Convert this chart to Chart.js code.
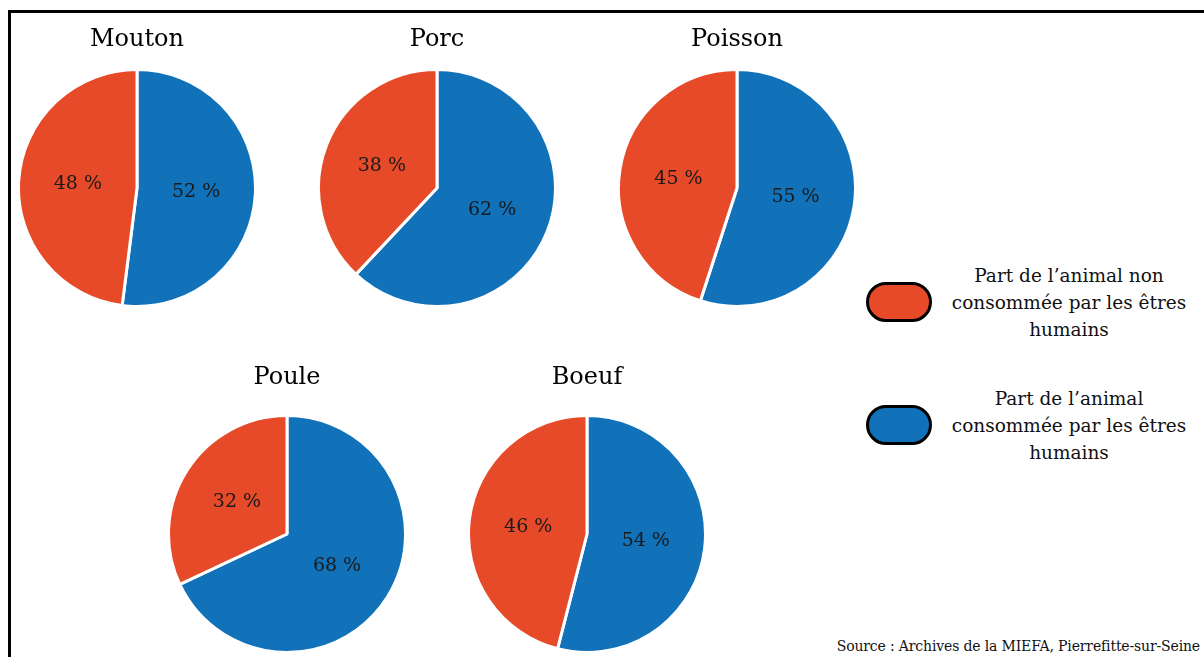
<!DOCTYPE html>
<html>
<head>
<meta charset="utf-8">
<script src="https://cdn.jsdelivr.net/npm/chart.js@4"></script>
<style>
  body { margin: 0; background: #fff; width: 1204px; height: 657px; overflow: hidden; position: relative; font-family: "DejaVu Serif", serif; }
  .frame { position: absolute; left: 8px; top: 10px; width: 1220px; height: 680px; border: 3px solid #000; box-sizing: border-box; }
  .pie { position: absolute; }
  .legend-item { position: absolute; left: 866px; width: 330px; height: 90px; }
  .pill { position: absolute; left: 0; width: 66px; height: 40px; border: 3px solid #000; border-radius: 20px; box-sizing: border-box; }
  .legend-text { position: absolute; left: 80px; width: 246px; text-align: center; font-size: 18.5px; line-height: 27px; color: #111; }
  .source { position: absolute; right: 4px; top: 638px; font-size: 14px; letter-spacing: -0.15px; color: #111; white-space: nowrap; }
</style>
</head>
<body>
<div class="frame"></div>

<div class="legend-item" style="top:262px">
  <div class="pill" style="top:20px;background:#E64A28"></div>
  <div class="legend-text" style="top:0">Part de l’animal non consommée par les êtres humains</div>
</div>
<div class="legend-item" style="top:385px">
  <div class="pill" style="top:20px;background:#1171B9"></div>
  <div class="legend-text" style="top:0">Part de l’animal consommée par les êtres humains</div>
</div>

<div class="source">Source : Archives de la MIEFA, Pierrefitte-sur-Seine</div>

<script>
const animals = ['Mouton', 'Porc', 'Poisson', 'Poule', 'Boeuf'];
const consumed = [52, 62, 55, 68, 54];      // bleu
const notConsumed = [48, 38, 45, 32, 46];   // orange
const seriesLabels = ['Part de l’animal consommée par les êtres humains', 'Part de l’animal non consommée par les êtres humains'];
const colors = ['#1171B9', '#E64A28'];

// layout: pie centre x, canvas top, title paddings
const layout = [
  { cx: 137, top: 10, padTop: 15, padBottom: 14.2 },
  { cx: 437, top: 10, padTop: 15, padBottom: 14.2 },
  { cx: 737, top: 10, padTop: 15, padBottom: 14.2 },
  { cx: 287, top: 348, padTop: 15, padBottom: 22.2 },
  { cx: 587, top: 348, padTop: 15, padBottom: 22.2 }
];

const pctLabels = {
  id: 'pctLabels',
  afterDatasetsDraw(chart) {
    const ctx = chart.ctx;
    const meta = chart.getDatasetMeta(0);
    const data = chart.data.datasets[0].data;
    ctx.save();
    ctx.font = '19px "DejaVu Serif", serif';
    ctx.fillStyle = '#1a1a1a';
    ctx.textAlign = 'center';
    ctx.textBaseline = 'middle';
    meta.data.forEach((arc, i) => {
      const p = arc.tooltipPosition();
      ctx.fillText(data[i] + ' %', p.x, p.y);
    });
    ctx.restore();
  }
};

animals.forEach((name, i) => {
  const L = layout[i];
  const titleH = L.padTop + 28.8 + L.padBottom;
  const w = 240, h = titleH + 240;
  const box = document.createElement('div');
  box.className = 'pie';
  box.style.left = (L.cx - w / 2) + 'px';
  box.style.top = L.top + 'px';
  box.style.width = w + 'px';
  box.style.height = h + 'px';
  const cv = document.createElement('canvas');
  box.appendChild(cv);
  document.body.appendChild(box);

  new Chart(cv, {
    type: 'pie',
    data: {
      labels: seriesLabels,
      datasets: [{
        data: [consumed[i], notConsumed[i]],
        backgroundColor: colors,
        borderColor: '#ffffff',
        borderWidth: 3
      }]
    },
    options: {
      responsive: true,
      maintainAspectRatio: false,
      animation: false,
      layout: { padding: 0 },
      plugins: {
        legend: { display: false },
        tooltip: { enabled: false },
        title: {
          display: true,
          text: name,
          color: '#000',
          font: { family: '"DejaVu Serif", serif', size: 24, weight: 'normal', lineHeight: 1.2 },
          padding: { top: L.padTop, bottom: L.padBottom }
        }
      }
    },
    plugins: [pctLabels]
  });
});
</script>
</body>
</html>
